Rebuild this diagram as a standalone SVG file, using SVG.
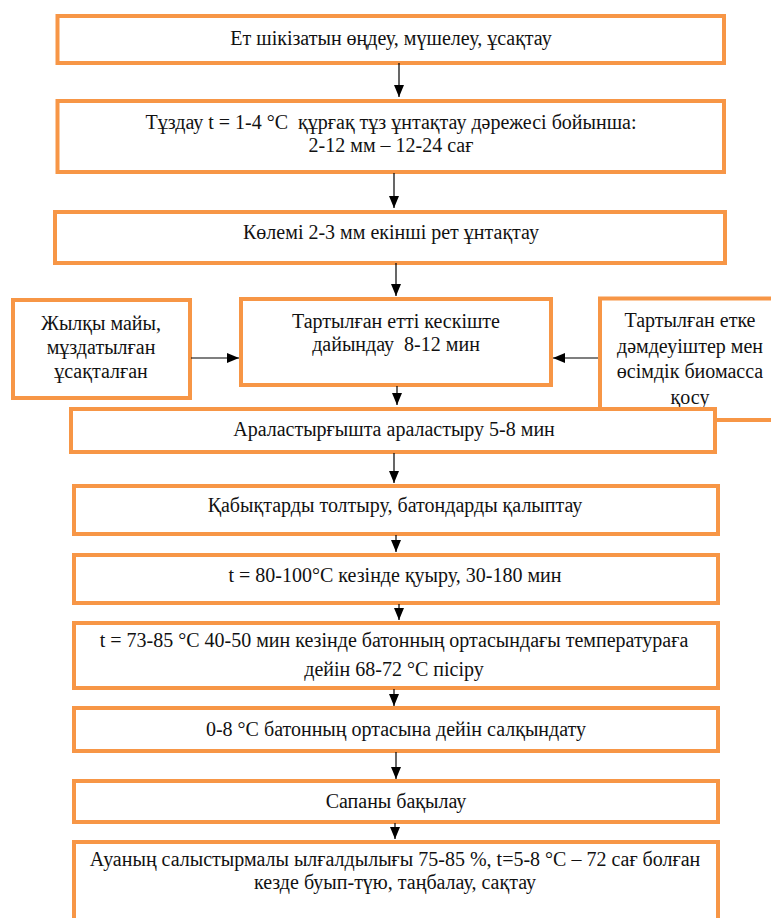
<svg xmlns="http://www.w3.org/2000/svg" width="771" height="918" viewBox="0 0 771 918">
<defs>
<style>
.box{fill:#ffffff;stroke:#F79646;stroke-width:4}
text{font-family:'Liberation Serif','DejaVu Serif',serif;font-size:20px;fill:#111;text-anchor:middle}
.c{stroke:#000;stroke-width:1.2;fill:none;marker-end:url(#ah)}
</style>
<marker id="ah" markerUnits="userSpaceOnUse" viewBox="0 0 12 10" refX="12" refY="5" markerWidth="12" markerHeight="10" orient="auto">
<path d="M0,0 L12,5 L0,10 z" fill="#000"/>
</marker>
</defs>
<rect width="771" height="918" fill="#ffffff"/>

<g id="n1"><rect class="box" x="57.5" y="16" width="666.5" height="47"/>
<text x="391" y="45">Ет шікізатын өңдеу, мүшелеу, ұсақтау</text></g>

<g id="n2"><rect class="box" x="57.5" y="101" width="666.5" height="71"/>
<text x="391" y="129" xml:space="preserve">Тұздау t = 1-4 °C  құрғақ тұз ұнтақтау дәрежесі бойынша:</text>
<text x="391" y="152">2-12 мм – 12-24 сағ</text></g>

<g id="n3"><rect class="box" x="55" y="212" width="670" height="51"/>
<text x="391" y="239">Көлемі 2-3 мм екінші рет ұнтақтау</text></g>

<g id="n4"><rect class="box" x="13" y="300" width="177" height="98"/>
<text x="101" y="330">Жылқы майы,</text>
<text x="101" y="354">мұздатылған</text>
<text x="101" y="378">ұсақталған</text></g>

<g id="n5"><rect class="box" x="241" y="299" width="310" height="86"/>
<text x="396" y="328">Тартылған етті кескіште</text>
<text x="396" y="351" xml:space="preserve">дайындау  8-12 мин</text></g>

<g id="n6"><rect class="box" x="600" y="298.5" width="200" height="121.5"/>
<text x="690" y="327">Тартылған етке</text>
<text x="690" y="352.5">дәмдеуіштер мен</text>
<text x="690" y="378">өсімдік биомасса</text>
<text x="690" y="404">қосу</text></g>

<g id="n7"><rect class="box" x="71" y="409" width="644" height="43"/>
<text x="394" y="436">Араластырғышта араластыру 5-8 мин</text></g>

<g id="n8"><rect class="box" x="74" y="486" width="644" height="48"/>
<text x="395" y="512">Қабықтарды толтыру, батондарды қалыптау</text></g>

<g id="n9"><rect class="box" x="74" y="555" width="644" height="48"/>
<text x="395" y="582">t = 80-100°C кезінде қуыру, 30-180 мин</text></g>

<g id="n10"><rect class="box" x="74" y="623" width="644" height="65"/>
<text x="394" y="647">t = 73-85 °C 40-50 мин кезінде батонның ортасындағы температураға</text>
<text x="394" y="676">дейін 68-72 °C пісіру</text></g>

<g id="n11"><rect class="box" x="74" y="708" width="644" height="43"/>
<text x="396" y="736">0-8 °C батонның ортасына дейін салқындату</text></g>

<g id="n12"><rect class="box" x="74" y="781" width="644" height="41"/>
<text x="396" y="808">Сапаны бақылау</text></g>

<g id="n13"><rect class="box" x="74" y="842" width="644" height="100"/>
<text x="395" y="866">Ауаның салыстырмалы ылғалдылығы 75-85 %, t=5-8 °C – 72 сағ болған</text>
<text x="395" y="889">кезде буып-түю, таңбалау, сақтау</text></g>

<g id="connectors">
<line class="c" x1="399" y1="63" x2="399" y2="97"/>
<line class="c" x1="394" y1="173" x2="394" y2="208"/>
<line class="c" x1="396" y1="263" x2="396" y2="296"/>
<line class="c" x1="397" y1="386" x2="397" y2="405"/>
<line class="c" x1="394" y1="453" x2="394" y2="483"/>
<line class="c" x1="396" y1="535" x2="396" y2="552"/>
<line class="c" x1="399" y1="604" x2="399" y2="620"/>
<line class="c" x1="394" y1="689" x2="394" y2="706"/>
<line class="c" x1="396" y1="752" x2="396" y2="779"/>
<line class="c" x1="395" y1="823" x2="395" y2="839"/>
<line class="c" x1="191" y1="358" x2="239" y2="358"/>
<line class="c" x1="598" y1="358" x2="553" y2="358"/>
</g>
</svg>
